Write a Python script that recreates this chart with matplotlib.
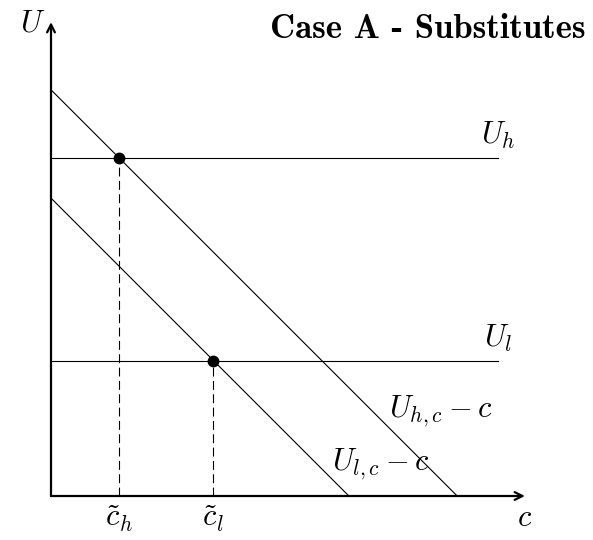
import matplotlib.pyplot as plt

plt.rcParams["mathtext.fontset"] = "cm"

# values in diagram units
U_HIGH = 5.0
U_LOW = 2.0
INTERCEPT_HIGH = 6.0   # U_{h,c}
INTERCEPT_LOW = 4.4    # U_{l,c}
C_TILDE = [INTERCEPT_HIGH - U_HIGH, INTERCEPT_LOW - U_LOW]
X_MAX = 7.0
Y_MAX = 7.0
LINE_END = 6.6

fig = plt.figure(figsize=(5.93, 5.40), dpi=100)
ax = fig.add_axes([0, 0, 1, 1])
unit = 67.7
ax.set_xlim(-51 / unit, (593 - 51) / unit)
ax.set_ylim((496 - 540) / unit, 496 / unit)
ax.axis("off")

# axes with arrows
arrow = dict(arrowstyle="->", lw=1.6, color="black", mutation_scale=14,
             shrinkA=0, shrinkB=0)
ax.annotate("", xy=(X_MAX, 0), xytext=(0, 0), arrowprops=arrow)
ax.annotate("", xy=(0, Y_MAX), xytext=(0, 0), arrowprops=arrow)

# budget lines U - c
for icpt in (INTERCEPT_HIGH, INTERCEPT_LOW):
    ax.plot([0, icpt], [icpt, 0], color="black", lw=0.8)

# utility levels
for u in (U_HIGH, U_LOW):
    ax.plot([0, LINE_END], [u, u], color="black", lw=0.8)

# intersections and drop lines
for c, u in zip(C_TILDE, (U_HIGH, U_LOW)):
    ax.plot([c, c], [0, u], color="black", lw=0.8, ls=(0, (8, 4)))
    ax.plot(c, u, "o", color="black", ms=7.5)

fs = 22
ax.text(-0.08, Y_MAX - 0.02, "$U$", fontsize=fs, ha="right", va="center")
ax.text(X_MAX, -0.1, "$c$", fontsize=fs, ha="center", va="top")
ax.text(LINE_END, U_HIGH + 0.1, "$U_h$", fontsize=fs, ha="center", va="bottom")
ax.text(LINE_END, U_LOW + 0.1, "$U_l$", fontsize=fs, ha="center", va="bottom")
ax.text(4.99, 1.25, "$U_{h,c} - c$", fontsize=fs, ha="left", va="center")
ax.text(4.15, 0.47, "$U_{l,c} - c$", fontsize=fs, ha="left", va="center")
ax.text(C_TILDE[0], -0.12, r"$\tilde{c}_h$", fontsize=fs, ha="center", va="top")
ax.text(C_TILDE[1], -0.12, r"$\tilde{c}_l$", fontsize=fs, ha="center", va="top")

ax.text(585 / unit - 51 / unit, 496 / unit - 30 / unit, "Case A - Substitutes",
        fontsize=25, family="cmb10", ha="right", va="center")

fig.savefig("out.png", dpi=100)
